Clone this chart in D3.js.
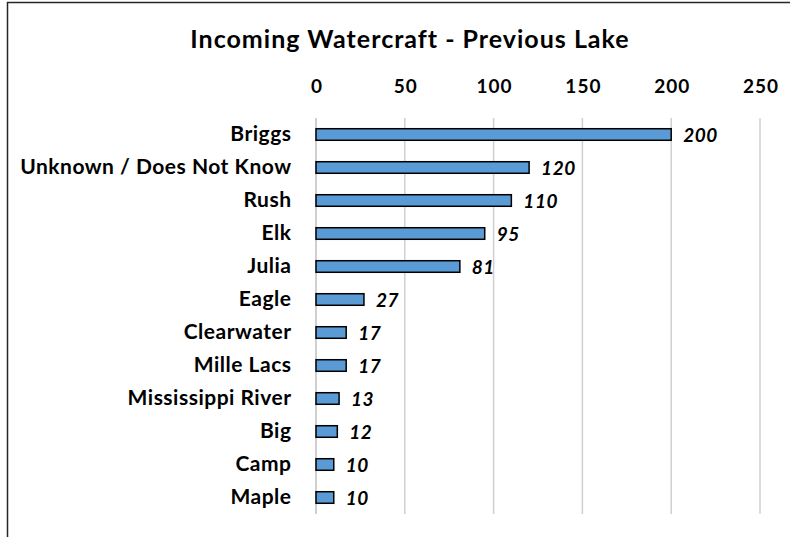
<!DOCTYPE html>
<html>
<head>
<meta charset="utf-8">
<title>Incoming Watercraft - Previous Lake</title>
<script src="https://d3js.org/d3.v7.min.js"></script>
<style>
  body { margin: 0; background: #fff; }
  text { font-family: Lato, "Open Sans", sans-serif; font-weight: bold; fill: #000; }
</style>
</head>
<body>
<script>
// data
const lakes = ["Briggs", "Unknown / Does Not Know", "Rush", "Elk", "Julia", "Eagle",
  "Clearwater", "Mille Lacs", "Mississippi River", "Big", "Camp", "Maple"];
const counts = [200, 120, 110, 95, 81, 27, 17, 17, 13, 12, 10, 10];
const xTicks = [0, 50, 100, 150, 200, 250];

const w = 790, h = 537;
const margin = { left: 316, right: 760, top: 118, bottom: 514 };

const svg = d3.select("body").append("svg")
  .attr("width", w)
  .attr("height", h);

// chart frame (clipped at right and bottom as in the picture)
svg.append("path")
  .attr("d", "M7.5," + h + "V2.5H" + w)
  .attr("fill", "none")
  .attr("stroke", "#262626")
  .attr("stroke-width", 1.5);

svg.append("text")
  .attr("x", 410)
  .attr("y", 48)
  .attr("text-anchor", "middle")
  .style("font-size", "25px")
  .style("letter-spacing", "1px")
  .text("Incoming Watercraft - Previous Lake");

const x = d3.scaleLinear().domain([0, 250]).range([margin.left, margin.right]);
const y = d3.scaleBand().domain(lakes).range([margin.top, margin.bottom])
  .paddingInner(0.65).paddingOuter(0.325);

// gridlines
svg.append("g")
  .selectAll("line")
  .data(xTicks)
  .join("line")
  .attr("x1", d => x(d)).attr("x2", d => x(d))
  .attr("y1", margin.top).attr("y2", margin.bottom)
  .attr("stroke", d => d === 0 ? "#bfbfbf" : "#d0d0d0")
  .attr("stroke-width", 1.5);

// top axis labels
const xAxis = d3.axisTop(x).tickValues(xTicks).tickSize(0).tickPadding(0);
const gx = svg.append("g")
  .attr("transform", "translate(0.5,93)")
  .call(xAxis);
gx.select(".domain").remove();
gx.selectAll("text")
  .attr("dy", 0)
  .style("font-family", "Lato, 'Open Sans', sans-serif")
  .style("font-weight", "bold")
  .style("font-size", "19px")
  .style("letter-spacing", "1px")
  .attr("fill", "#000");

// category labels
const yAxis = d3.axisLeft(y).tickSize(0).tickPadding(0);
const gy = svg.append("g")
  .attr("transform", "translate(291.5,0)")
  .call(yAxis);
gy.select(".domain").remove();
gy.selectAll("text")
  .style("font-family", "Lato, 'Open Sans', sans-serif")
  .style("font-weight", "bold")
  .style("font-size", "21px")
  .style("letter-spacing", "0.5px")
  .attr("fill", "#000");

const data = lakes.map((d, i) => ({ lake: d, value: counts[i] }));

svg.append("g")
  .selectAll("rect")
  .data(data)
  .join("rect")
  .attr("x", x(0))
  .attr("y", d => y(d.lake))
  .attr("width", d => x(d.value) - x(0))
  .attr("height", y.bandwidth())
  .attr("fill", "#5b9bd5")
  .attr("stroke", "#000")
  .attr("stroke-width", 1.5);

svg.append("g")
  .selectAll("text")
  .data(data)
  .join("text")
  .attr("x", d => x(d.value) + 12)
  .attr("y", d => y(d.lake) + y.bandwidth() / 2)
  .attr("dy", "0.38em")
  .style("font-size", "19px")
  .style("font-style", "italic")
  .style("letter-spacing", "0.5px")
  .text(d => d.value);
</script>
</body>
</html>
